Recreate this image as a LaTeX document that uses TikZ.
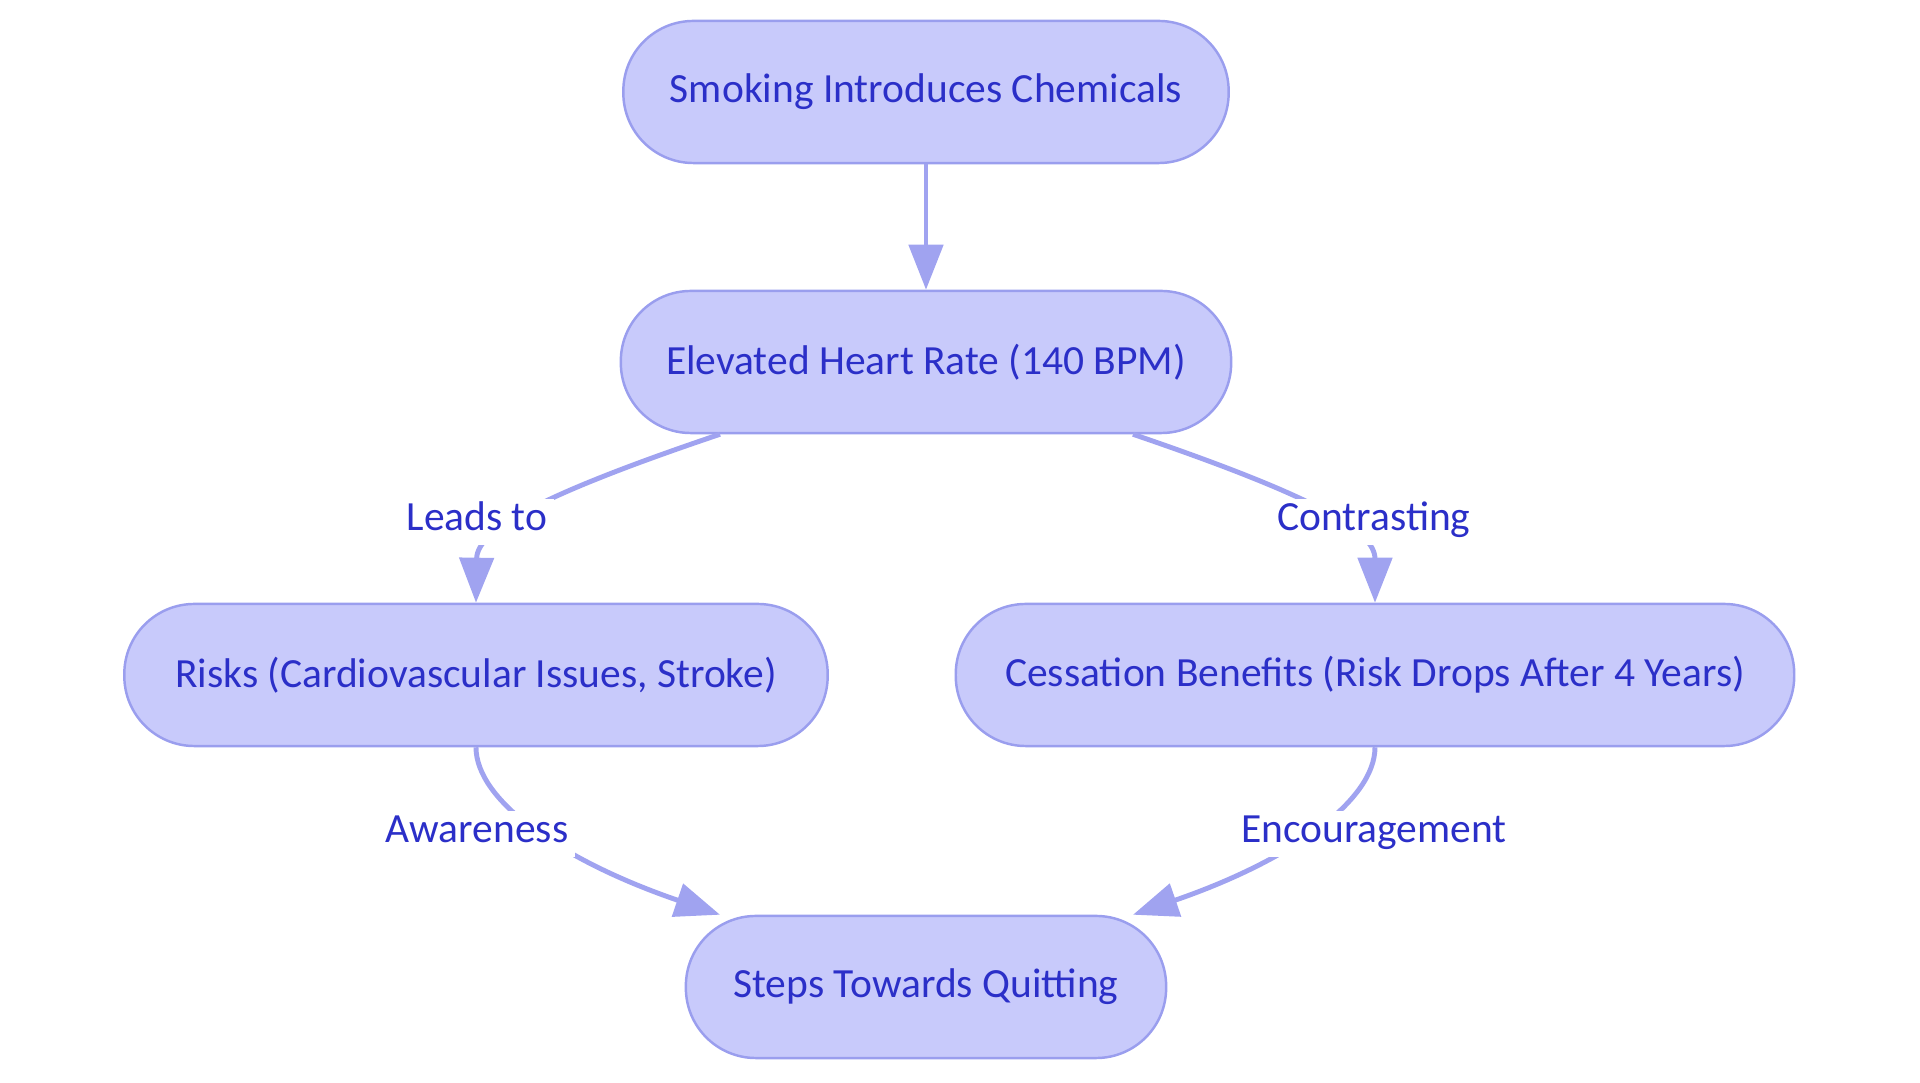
\documentclass[tikz,border=0pt]{standalone}
\usepackage{fontspec}
\setmainfont{Carlito}
\usetikzlibrary{arrows.meta,calc}
\definecolor{nodefill}{RGB}{200,202,251}
\definecolor{nodestroke}{RGB}{154,158,238}
\definecolor{edgecol}{RGB}{160,163,240}
\definecolor{txtcol}{RGB}{43,47,200}
\tikzset{
  flownode/.style={draw=nodestroke, fill=nodefill, line width=0.7pt, rounded corners=0.70cm,
    minimum height=1.42cm, inner sep=0pt, text=txtcol, font=\fontsize{11.8pt}{14pt}\selectfont},
  edgelabel/.style={fill=white, inner xsep=2pt, inner ysep=1.8pt, text height=0.72em, text depth=0.22em, text=txtcol, font=\fontsize{11.8pt}{14pt}\selectfont},
  edgeline/.style={draw=edgecol, line width=1.4pt, -{Triangle[length=0.45cm,width=0.34cm]}}
}
\begin{document}
\begin{tikzpicture}[x=0.01cm,y=-0.01cm]
\useasboundingbox (0,0) rectangle (1920,1083);
\node[flownode, minimum width=6.05cm] (top) at (926,92) {Smoking Introduces Chemicals};
\node[flownode, minimum width=6.10cm] (elev) at (926,362) {Elevated Heart Rate (140 BPM)};
\node[flownode, minimum width=7.03cm] (risks) at (476,675) {Risks (Cardiovascular Issues, Stroke)};
\node[flownode, minimum width=8.38cm] (cess) at (1375,675) {Cessation Benefits (Risk Drops After 4 Years)};
\node[flownode, minimum width=4.80cm] (steps) at (926,987) {Steps Towards Quitting};

\draw[edgeline] (top.south) -- (elev.north);
\draw[edgeline] ($(elev.south)+(-206,0)$) .. controls (540,495) and (477,530) .. (risks.north);
\draw[edgeline] ($(elev.south)+(207,0)$) .. controls (1311,495) and (1375,530) .. (cess.north);
\draw[edgeline] (risks.south) .. controls (476,800) and (560,860) .. ($(steps.north)+(-206,0)$);
\draw[edgeline] (cess.south) .. controls (1375,800) and (1292,860) .. ($(steps.north)+(207,0)$);

\node[edgelabel] (l1) at (477,522) {Leads to};
\node[edgelabel] (l2) at (1374,522) {Contrasting};
\node[edgelabel] (l3) at (477,834) {Awareness};
\node[edgelabel] (l4) at (1374,834) {Encouragement};
\end{tikzpicture}
\end{document}
